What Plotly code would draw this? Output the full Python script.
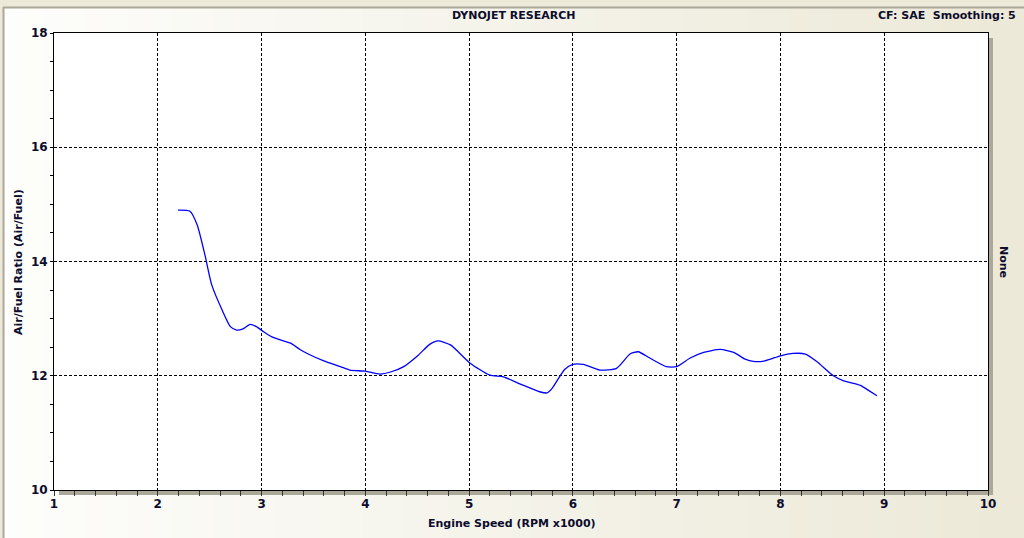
import plotly.graph_objects as go

rpm = [2.195, 2.31, 2.38, 2.455, 2.52, 2.62, 2.70, 2.76, 2.82, 2.89, 2.95, 3.02, 3.10,
       3.21, 3.28, 3.37, 3.44, 3.60, 3.76, 3.85, 4.00, 4.14, 4.25, 4.37, 4.51, 4.62, 4.70,
       4.82, 5.01, 5.20, 5.33, 5.50, 5.68, 5.75, 5.80, 5.92, 6.00, 6.10, 6.26, 6.42, 6.55,
       6.63, 6.74, 6.90, 7.00, 7.13, 7.26, 7.42, 7.55, 7.66, 7.74, 7.85, 8.00, 8.12, 8.24,
       8.35, 8.51, 8.61, 8.77, 8.86, 8.93]
afr = [14.90, 14.88, 14.64, 14.11, 13.59, 13.15, 12.86, 12.80, 12.82, 12.90, 12.86, 12.77, 12.68,
       12.61, 12.57, 12.46, 12.39, 12.26, 12.16, 12.10, 12.08, 12.03, 12.07, 12.16, 12.36, 12.55, 12.61,
       12.54, 12.22, 12.01, 11.98, 11.85, 11.72, 11.70, 11.78, 12.11, 12.20, 12.20, 12.10, 12.13, 12.38,
       12.42, 12.31, 12.16, 12.16, 12.31, 12.41, 12.46, 12.41, 12.29, 12.25, 12.26, 12.35, 12.39, 12.38,
       12.25, 12.00, 11.91, 11.83, 11.73, 11.65]

x_ticks = [1, 2, 3, 4, 5, 6, 7, 8, 9, 10]
y_ticks = [10, 12, 14, 16, 18]

W, H = 1024, 538
L, R, T, B = 54, 988, 33, 490  # plot area pixel bounds
PW, PH = R - L, B - T


def px(xp):
    return (xp - L) / PW


def py(yp):
    return (B - yp) / PH


TXT = "#0c0c2c"
FONT = "DejaVu Sans"

fig = go.Figure()
fig.add_trace(go.Scatter(x=rpm, y=afr, mode="lines",
                         line=dict(color="#0000ff", width=1.3, shape="spline", smoothing=0.6),
                         hoverinfo="skip", showlegend=False))

shapes = []
# gradient background strips
n = 48
c0 = (253, 253, 251)
c1 = (236, 233, 216)
for i in range(n):
    t = i / (n - 1)
    col = "rgb(%d,%d,%d)" % tuple(round(a + (b - a) * t) for a, b in zip(c0, c1))
    shapes.append(dict(type="rect", xref="paper", yref="paper", layer="below",
                       x0=px(i * W / n), x1=px((i + 1) * W / n + 1), y0=py(H), y1=py(0),
                       line=dict(width=0), fillcolor=col))
# top beige strip and frame lines
shapes.append(dict(type="rect", xref="paper", yref="paper", layer="below",
                   x0=px(0), x1=px(W), y0=py(7), y1=py(0), line=dict(width=0), fillcolor="#ece9d8"))
shapes.append(dict(type="rect", xref="paper", yref="paper", layer="below",
                   x0=px(0), x1=px(3), y0=py(H), y1=py(0), line=dict(width=0), fillcolor="#ece9d8"))
shapes.append(dict(type="line", xref="paper", yref="paper", layer="below",
                   x0=px(3), x1=px(W), y0=py(7.5), y1=py(7.5), line=dict(color="#aca899", width=2)))
shapes.append(dict(type="line", xref="paper", yref="paper", layer="below",
                   x0=px(3.5), x1=px(3.5), y0=py(H), y1=py(7), line=dict(color="#aca899", width=2)))
# shadow
shapes.append(dict(type="rect", xref="paper", yref="paper", layer="below",
                   x0=px(L + 5), x1=px(R + 5), y0=py(B + 5), y1=py(B), line=dict(width=0), fillcolor="#aca899"))
shapes.append(dict(type="rect", xref="paper", yref="paper", layer="below",
                   x0=px(R), x1=px(R + 5), y0=py(B + 5), y1=py(T + 5), line=dict(width=0), fillcolor="#aca899"))
# white plot area
shapes.append(dict(type="rect", xref="paper", yref="paper", layer="below",
                   x0=0, x1=1, y0=0, y1=1, line=dict(width=0), fillcolor="#ffffff"))

annotations = [
    dict(text="<b>DYNOJET RESEARCH</b>", x=px(513), y=py(16), xref="paper", yref="paper",
         showarrow=False, xanchor="center", yanchor="middle", font=dict(family=FONT, size=11, color=TXT)),
    dict(text="<b>CF: SAE\u00a0\u00a0Smoothing: 5</b>", x=px(1018), y=py(16), xref="paper", yref="paper",
         showarrow=False, xanchor="right", yanchor="middle", font=dict(family=FONT, size=11, color=TXT)),
    dict(text="<b>Air/Fuel Ratio (Air/Fuel)</b>", x=px(18), y=py(262), xref="paper", yref="paper",
         showarrow=False, textangle=-90, xanchor="center", yanchor="middle",
         font=dict(family=FONT, size=11, color=TXT)),
    dict(text="<b>Engine Speed (RPM x1000)</b>", x=px(512), y=py(523), xref="paper", yref="paper",
         showarrow=False, xanchor="center", yanchor="middle", font=dict(family=FONT, size=11, color=TXT)),
    dict(text="<b>None</b>", x=px(1004), y=py(262), xref="paper", yref="paper",
         showarrow=False, textangle=90, xanchor="center", yanchor="middle",
         font=dict(family=FONT, size=11, color=TXT)),
]

fig.update_layout(
    width=W, height=H,
    margin=dict(l=L, r=W - R, t=T, b=H - B, pad=0),
    paper_bgcolor="#ece9d8",
    plot_bgcolor="#ffffff",
    shapes=shapes,
    annotations=annotations,
    showlegend=False,
    xaxis=dict(range=[1, 10], tickvals=x_ticks, ticktext=[str(v) for v in x_ticks],
               showgrid=True, gridcolor="#000000", griddash="3px,2px", gridwidth=1,
               showline=True, linecolor="#000000", linewidth=1, mirror=True,
               ticks="outside", ticklen=5, tickcolor="#333333", tickwidth=1,
               minor=dict(dtick=0.2, tick0=1, ticks="outside", ticklen=5, tickcolor="#333333", showgrid=False),
               tickfont=dict(family=FONT, size=12, color=TXT, weight="bold"),
               ticklabelstandoff=-2,
               zeroline=False, fixedrange=True),
    yaxis=dict(range=[10, 18], tickvals=y_ticks, ticktext=[str(v) for v in y_ticks],
               showgrid=True, gridcolor="#000000", griddash="3px,2px", gridwidth=1,
               showline=True, linecolor="#000000", linewidth=1, mirror=True,
               ticks="outside", ticklen=3, tickcolor="#000000", tickwidth=1,
               minor=dict(dtick=0.5, tick0=10, ticks="outside", ticklen=3, tickcolor="#000000", showgrid=False),
               tickfont=dict(family=FONT, size=12, color=TXT, weight="bold"),
               zeroline=False, fixedrange=True),
)

fig.write_html("out.html", config={"displayModeBar": False},
               post_script="document.body.style.margin='0';document.body.style.overflow='hidden';")
